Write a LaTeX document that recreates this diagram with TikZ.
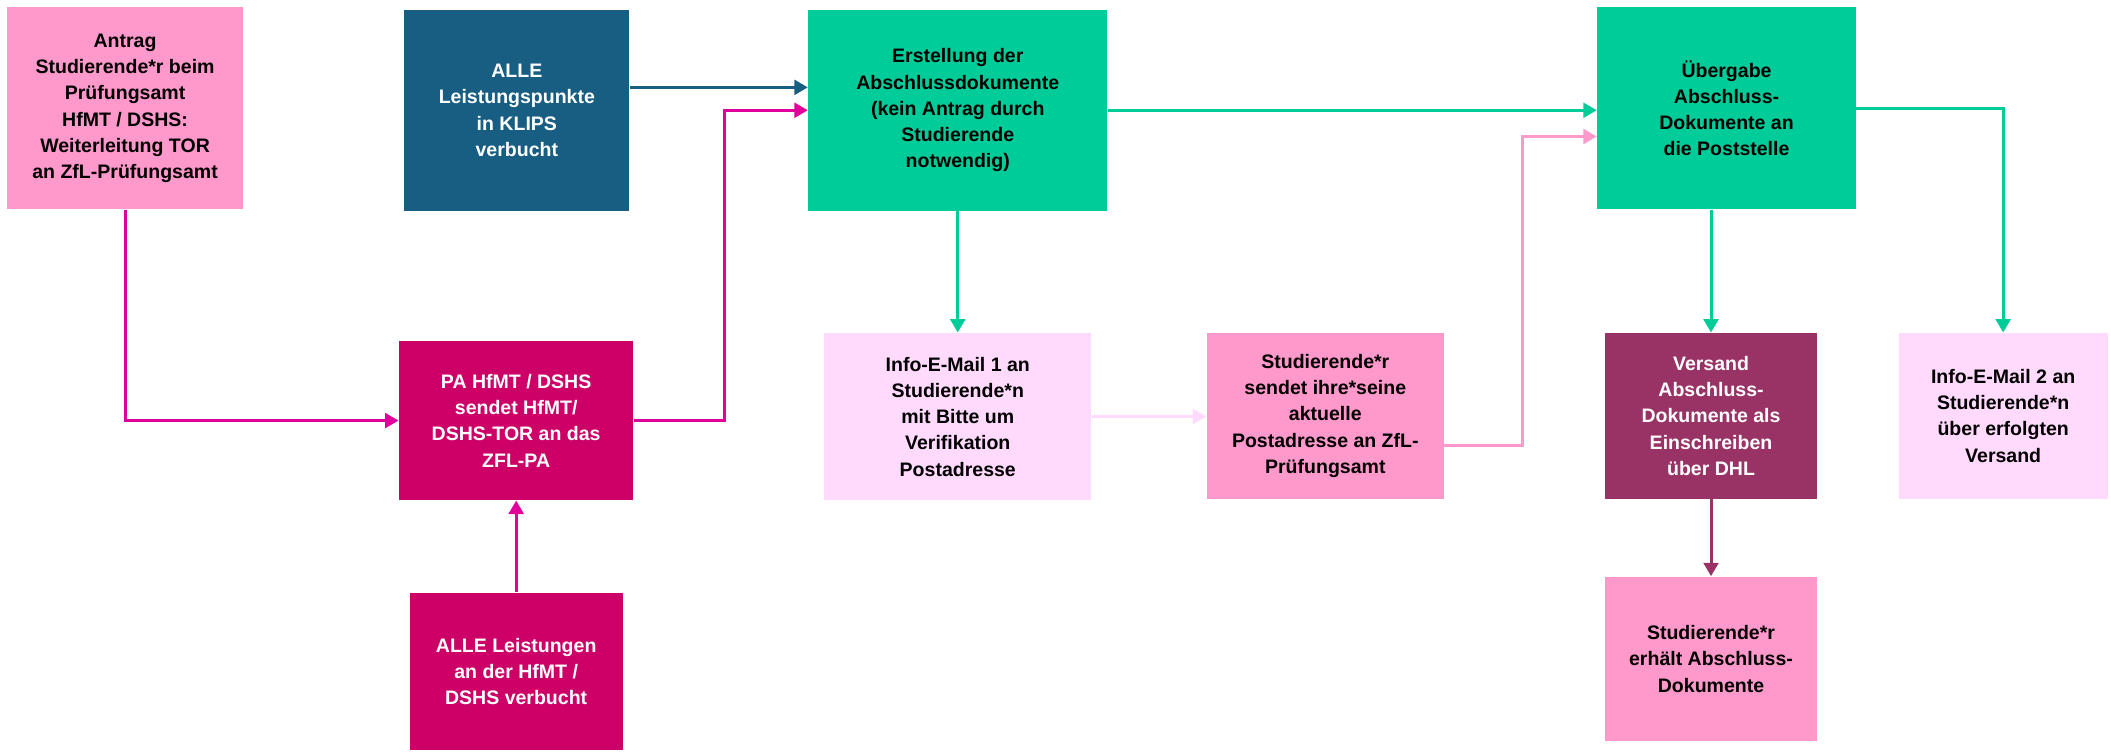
\documentclass[tikz,border=0pt]{standalone}
\usepackage{fontspec}
\setmainfont{Liberation Sans}
\usetikzlibrary{arrows.meta}
\definecolor{cpink}{HTML}{FF99CC}
\definecolor{cblue}{HTML}{185E82}
\definecolor{cgreen}{HTML}{00CC99}
\definecolor{cmag}{HTML}{CC0066}
\definecolor{cmagline}{HTML}{E0009A}
\definecolor{clight}{HTML}{FFDAFD}
\definecolor{cplum}{HTML}{993366}
\tikzset{
  box/.style={anchor=north west, inner sep=0pt, align=center,
    font=\bfseries\fontsize{7.25pt}{9.75pt}\selectfont},
  conn/.style={line width=1.1pt, -{Triangle[length=5pt,width=5.5pt]}},
}
\begin{document}
\begin{tikzpicture}[x=0.5pt,y=-0.5pt]
\useasboundingbox (0,0) rectangle (1568,561);
% nodes
\node[box, fill=cpink, minimum width=87.5pt, minimum height=75pt] (A) at (5,5)
  {Antrag\\Studierende*r beim\\Prüfungsamt\\HfMT / DSHS:\\Weiterleitung TOR\\an ZfL-Prüfungsamt};
\node[box, fill=cblue, text=white, minimum width=83.5pt, minimum height=74.5pt] (B) at (300,7)
  {ALLE\\Leistungspunkte\\in KLIPS\\verbucht};
\node[box, fill=cgreen, minimum width=111pt, minimum height=74.5pt] (C) at (600,7)
  {Erstellung der\\Abschlussdokumente\\(kein Antrag durch\\Studierende\\notwendig)};
\node[box, fill=cgreen, minimum width=96pt, minimum height=75pt] (D) at (1186,5)
  {Übergabe\\Abschluss-\\Dokumente an\\die Poststelle};
\node[box, fill=cmag, text=white, minimum width=87pt, minimum height=59pt] (E) at (296,253)
  {PA HfMT / DSHS\\sendet HfMT/\\DSHS-TOR an das\\ZFL-PA};
\node[box, fill=cmag, text=white, minimum width=79pt, minimum height=58.5pt] (F) at (304,440)
  {ALLE Leistungen\\an der HfMT /\\DSHS verbucht};
\node[box, fill=clight, minimum width=99pt, minimum height=62pt] (G) at (612,247)
  {Info-E-Mail 1 an\\Studierende*n\\mit Bitte um\\Verifikation\\Postadresse};
\node[box, fill=cpink, minimum width=88pt, minimum height=61.5pt] (H) at (896,247)
  {Studierende*r\\sendet ihre*seine\\aktuelle\\Postadresse an ZfL-\\Prüfungsamt};
\node[box, fill=cplum, text=white, minimum width=78.5pt, minimum height=61.5pt] (I) at (1192,247)
  {Versand\\Abschluss-\\Dokumente als\\Einschreiben\\über DHL};
\node[box, fill=clight, minimum width=77.5pt, minimum height=61.5pt] (J) at (1410,247)
  {Info-E-Mail 2 an\\Studierende*n\\über erfolgten\\Versand};
\node[box, fill=cpink, minimum width=78.5pt, minimum height=61pt] (K) at (1192,428)
  {Studierende*r\\erhält Abschluss-\\Dokumente};
% connectors
\draw[conn, cblue] ([yshift=8.5pt]B.east) -- ([yshift=8.5pt]C.west);
\draw[conn, cmagline] (A.south) |- (E.west);
\draw[conn, cmagline] (E.east) -- ++(67,0) |- (C.west);
\draw[conn, cmagline] (F.north) -- (E.south);
\draw[conn, cgreen] (C.east) -- (C.east -| D.west);
\draw[conn, cgreen] (C.south) -- (G.north);
\draw[conn, clight] (G.east) -- (G.east -| H.west);
\draw[conn, cpink] ([yshift=-11pt]H.east) -- ++(58,0) |- ([yshift=-10.5pt]D.west);
\draw[conn, cgreen] (D.east) -| (J.north);
\draw[conn, cgreen] (I.north |- D.south) -- (I.north);
\draw[conn, cplum] (I.south) -- (K.north);
\end{tikzpicture}
\end{document}
